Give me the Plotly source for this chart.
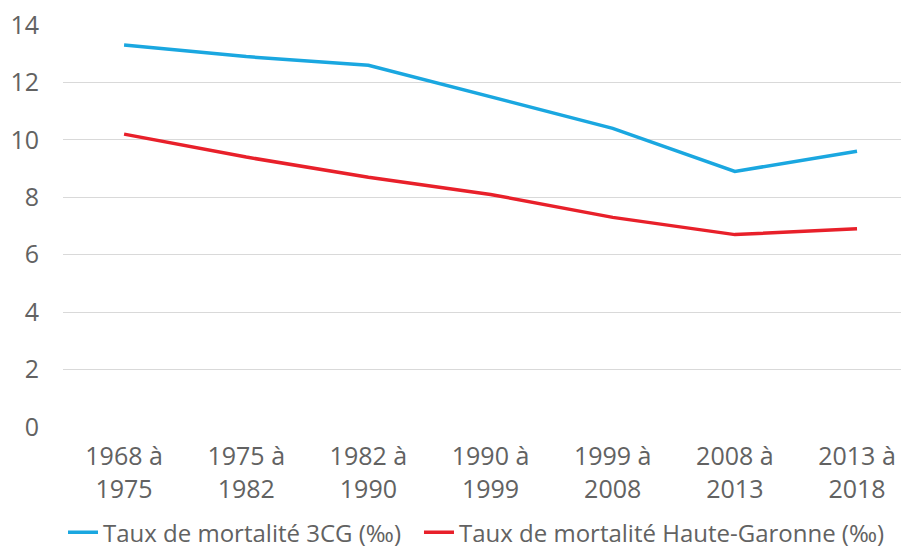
import plotly.graph_objects as go

categories = ["1968 à<br>1975", "1975 à<br>1982", "1982 à<br>1990", "1990 à<br>1999",
              "1999 à<br>2008", "2008 à<br>2013", "2013 à<br>2018"]
taux_3cg = [13.3, 12.9, 12.6, 11.5, 10.4, 8.9, 9.6]
taux_hg = [10.2, 9.4, 8.7, 8.1, 7.3, 6.7, 6.9]
y_ticks = [0, 2, 4, 6, 8, 10, 12, 14]

fig = go.Figure()
fig.add_trace(go.Scatter(x=list(range(len(categories))), y=taux_3cg, mode="lines",
                         name="Taux de mortalité 3CG (‰)", legend="legend",
                         line=dict(color="#1AA7E0", width=3.5)))
fig.add_trace(go.Scatter(x=list(range(len(categories))), y=taux_hg, mode="lines",
                         name="Taux de mortalité Haute-Garonne (‰)", legend="legend2",
                         line=dict(color="#E8202A", width=3.5)))

leg_common = dict(orientation="h", xanchor="left", y=-0.263, yanchor="middle",
                  font=dict(size=24, color="#626262"), bgcolor="rgba(0,0,0,0)",
                  borderwidth=0)

fig.update_layout(
    width=901, height=549,
    margin=dict(l=63, r=0, t=25, b=122, autoexpand=False),
    paper_bgcolor="white", plot_bgcolor="white",
    font=dict(family="Open Sans", size=25, color="#626262"),
    xaxis=dict(tickmode="array", tickvals=list(range(len(categories))), ticktext=categories,
               range=[-0.5, 6.36], showgrid=False, zeroline=False, showline=False,
               ticks="", ticklabelstandoff=12, automargin=False),
    yaxis=dict(range=[0, 14], tickvals=y_ticks, showgrid=True, gridcolor="#D9D9D9",
               gridwidth=1.3, zeroline=False, showline=False, ticks="", ticklabelstandoff=23,
               automargin=False),
    legend=dict(x=0.0, **leg_common),
    legend2=dict(x=0.4248, **leg_common),
    showlegend=True,
)

fig.write_html("out.html", config={"displayModeBar": False},
               post_script="document.body.style.margin='0';document.body.style.overflow='hidden';")
